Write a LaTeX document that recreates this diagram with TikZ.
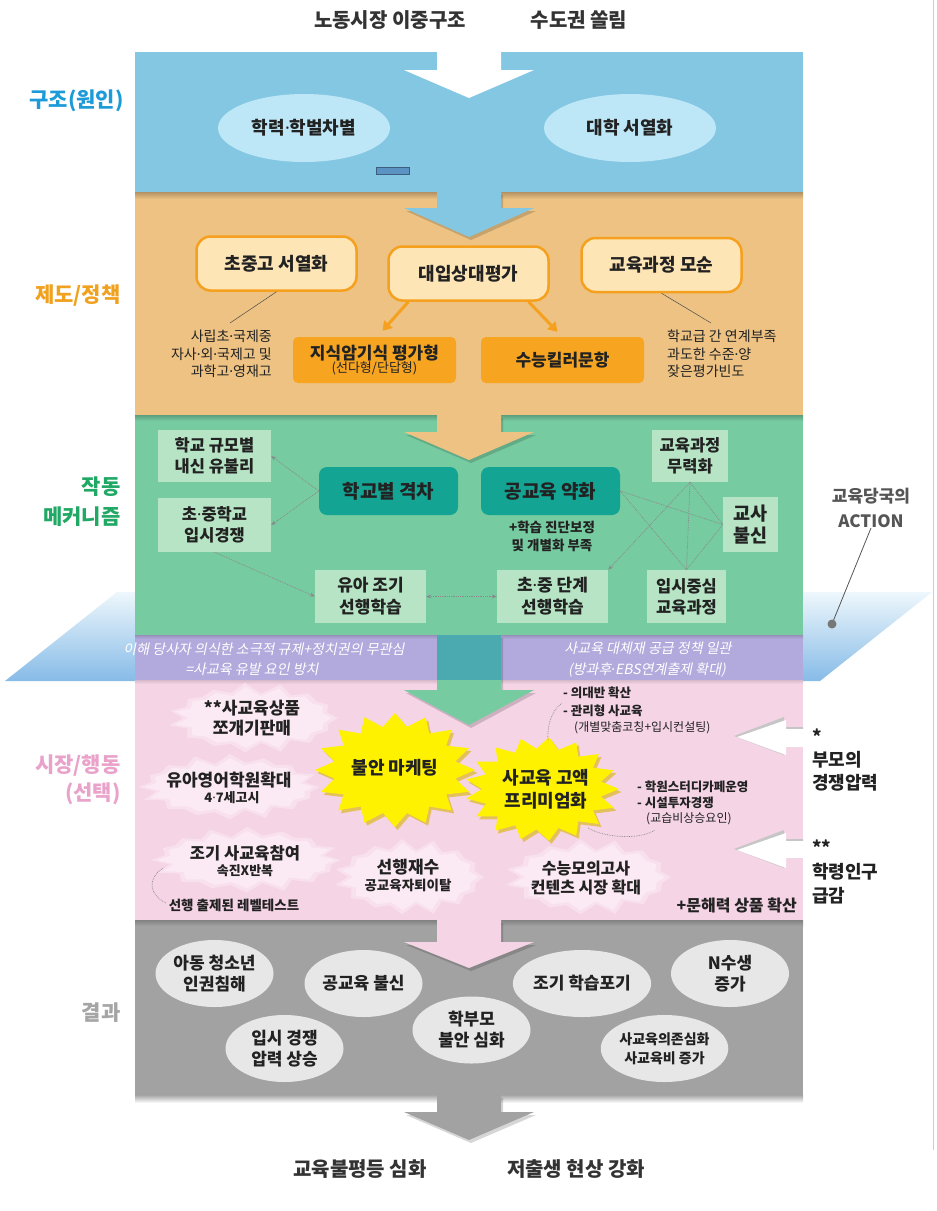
\documentclass[tikz,border=0pt]{standalone}
\usepackage{fontspec}
\setmainfont{Noto Sans CJK KR}
\newfontfamily\krit{Noto Sans CJK KR}[FakeSlant=0.2]
\newfontfamily\latinf{Noto Sans}
\newcommand\md{{\latinf ·}}
\usetikzlibrary{arrows.meta,shapes.geometric,calc}
\newcommand\fsz[2]{\fontsize{#1}{#2}\selectfont}
\definecolor{bandblue}{HTML}{83C7E2}
\definecolor{bandorange}{HTML}{EDC283}
\definecolor{bandgreen}{HTML}{77CBA1}
\definecolor{bandlav}{HTML}{B2AADC}
\definecolor{bandpink}{HTML}{F4D4E5}
\definecolor{bandgray}{HTML}{A2A2A2}
\definecolor{ellblue}{HTML}{BDE6F6}
\definecolor{boxcream}{HTML}{FDE5B6}
\definecolor{boxorange}{HTML}{F7A521}
\definecolor{orangeline}{HTML}{F5A01E}
\definecolor{mint}{HTML}{B6E4C4}
\definecolor{tealbox}{HTML}{14A494}
\definecolor{softpink}{HTML}{FBEAF3}
\definecolor{starY}{HTML}{FFF200}
\definecolor{starS}{HTML}{D9B300}
\definecolor{ellgray}{HTML}{E7E7E7}
\definecolor{lblblue}{HTML}{1D9AD8}
\definecolor{lblorange}{HTML}{F0A11E}
\definecolor{lblgreen}{HTML}{20A864}
\definecolor{lblpink}{HTML}{E9A3CB}
\definecolor{lblgray}{HTML}{A5A5A5}
\definecolor{txt}{HTML}{222222}
\definecolor{titlec}{HTML}{333333}
\definecolor{paraTop}{HTML}{EEF7FC}
\definecolor{paraBot}{HTML}{86BBE7}
\definecolor{tealshaft}{HTML}{4AAAB0}
\definecolor{dotc}{HTML}{8A8A8A}
\definecolor{markfill}{HTML}{5B93C2}
\definecolor{markline}{HTML}{3D5F7D}
\definecolor{actc}{HTML}{555555}

\newcommand\flowarrow[4]{%
  \fill[black, opacity=0.16] (439,#1+3) -- (503,#1+3) -- (503,#2+3) -- (536,#2+3) -- (471,#3+3) -- (406,#2+3) -- (439,#2+3) -- cycle;
  \fill[#4] (437,#1) -- (501,#1) -- (501,#2) -- (534,#2) -- (469,#3) -- (404,#2) -- (437,#2) -- cycle;}
\newcommand\burst[7]{%
  \pgfmathtruncatemacro\bN{2*#5-1}%
  \fill[#7] ({#1+#3},{#2}) \foreach \i in {1,...,\bN} { -- ({#1+#3*(1-#6*mod(\i,2))*cos(\i*180/#5)},{#2+#4*(1-#6*mod(\i,2))*sin(\i*180/#5)}) } -- cycle;}
\newcommand\softburst[6]{%
  \pgfmathtruncatemacro\bN{2*#5-1}%
  \fill[#6] ({#1+#3},{#2}) \foreach \i in {1,...,\bN} { -- ({#1+#3*(1-0.12*mod(\i,2)+0.04*sin(\i*137))*cos(\i*180/#5)},{#2+#4*(1-0.22*mod(\i,2)+0.05*sin(\i*137))*sin(\i*180/#5)}) } -- cycle;}

\tikzset{
  every node/.style={text=txt},
  lbl/.style={anchor=east, align=right},
  ttl/.style={font=\fsz{20}{24}\bfseries, text=titlec},
  bell/.style={ellipse, fill=ellblue, minimum width=172pt, minimum height=68pt, inner sep=0pt, font=\fsz{18}{22}\bfseries},
  obox/.style={rounded corners=14pt, draw=orangeline, line width=2.5pt, fill=boxcream, minimum width=160pt, minimum height=54pt, inner sep=0pt, font=\fsz{18}{22}\bfseries},
  kbox/.style={rounded corners=5pt, fill=boxorange, minimum width=163pt, minimum height=46pt, inner sep=0pt, align=center},
  note/.style={font=\fsz{14}{17.5}, inner sep=0pt},
  mbox/.style={fill=mint, inner sep=0pt, align=center, font=\fsz{16.5}{21}\bfseries},
  tbox/.style={fill=tealbox, rounded corners=8pt, minimum width=139pt, minimum height=48pt, inner sep=0pt, font=\fsz{19}{23}\bfseries},
  dotcon/.style={densely dotted, draw=dotc, line width=0.8pt},
  dtip/.style={-{Stealth[length=5pt,width=4pt]}},
  ittext/.style={text=white, font=\krit\fsz{14}{17}, inner sep=0pt},
  pktext/.style={inner sep=0pt, align=center},
  gell/.style={ellipse, fill=ellgray, minimum width=118pt, minimum height=67pt, inner sep=0pt, font=\fsz{17}{21}\bfseries, align=center},
  oarrow/.style={draw=orangeline, line width=3pt, -{Triangle[length=9pt,width=11pt]}},
  arcdot/.style={densely dotted, draw=dotc, line width=0.7pt},
}

\begin{document}
\begin{tikzpicture}[x=1pt,y=-1pt]
\useasboundingbox (0,0) rectangle (937,1211);
\fill[white] (0,0) rectangle (937,1211);
\draw[gray!40, line width=0.8pt] (933,0) -- (933,1150);

% action plane
\shade[top color=paraTop, bottom color=paraBot] (117,592) -- (932,592) -- (820,681) -- (5,681) -- cycle;

% bands
\fill[bandblue] (135,52) rectangle (803,192);
\fill[bandorange] (135,192) rectangle (803,415);
\fill[bandgreen] (135,415) rectangle (803,635);
\fill[bandlav] (135,635) rectangle (803,680);
\fill[bandpink] (135,680) rectangle (803,920);
\fill[bandgray] (135,920) rectangle (803,1095);
\shade[top color=bandorange!75!black, bottom color=bandorange] (135,192) rectangle (803,199);
\shade[top color=bandgreen!78!black, bottom color=bandgreen] (135,415) rectangle (803,421);
\shade[top color=bandlav!85!black, bottom color=bandlav] (135,635) rectangle (803,639);
\shade[top color=bandpink!88!black, bottom color=bandpink] (135,680) rectangle (803,684);
\shade[top color=bandgray!80!black, bottom color=bandgray] (135,920) rectangle (803,926);
\shade[top color=black!35, bottom color=white] (135,1095) rectangle (803,1103);

% flow arrows
\fill[white] (437,52) -- (501,52) -- (501,70) -- (534,70) -- (469,98) -- (404,70) -- (437,70) -- cycle;
\flowarrow{192}{208}{237}{bandblue}
\flowarrow{415}{432}{460}{bandorange}
\flowarrow{635}{690}{725}{bandgreen}
\fill[tealshaft] (437,635) rectangle (501,680);
\flowarrow{920}{942}{968}{bandpink}
\flowarrow{1095}{1112}{1140}{bandgray}

% pink band notches (white arrows from the right)
\fill[gray!45] (803,727) -- (784,727) -- (784,717) -- (734,736) -- (784,755) -- (784,747) -- (803,747) -- cycle;
\fill[white] (806,729) -- (786,729) -- (786,720) -- (737,737) -- (786,755) -- (786,747) -- (806,747) -- cycle;
\fill[gray!45] (803,839) -- (784,839) -- (784,830) -- (734,849) -- (784,868) -- (784,858) -- (803,858) -- cycle;
\fill[white] (806,841) -- (786,841) -- (786,833) -- (737,850) -- (786,868) -- (786,858) -- (806,858) -- cycle;

% titles
\node[ttl] (t1) at (390,20) {노동시장 이중구조};
\node[ttl] (t2) at (579,20) {수도권 쏠림};
\node[ttl] (t3) at (360,1169) {교육불평등 심화};
\node[ttl] (t4) at (576,1169) {저출생 현상 강화};

% side labels
\node[lbl, text=lblblue, font=\fsz{21}{25}\bfseries] (L1) at (127,101) {구조(원인)};
\node[lbl, text=lblorange, font=\fsz{21}{25}\bfseries] (L2) at (124,296) {제도/정책};
\node[lbl, text=lblgreen, font=\fsz{21}{30}\bfseries] (L3) at (124,502) {작동\\메커니즘};
\node[lbl, text=lblpink, font=\fsz{21}{28}\bfseries] (L4) at (124,780) {시장/행동\\(선택)};
\node[lbl, text=lblgray, font=\fsz{21}{25}\bfseries] (L5) at (124,1013) {결과};

% blue band
\node[bell] (e1) at (304,128) {학력\md 학벌차별};
\node[bell] (e2) at (630,128) {대학 서열화};
\node[draw=markline, fill=markfill, line width=1.3pt, minimum width=33pt, minimum height=7pt, inner sep=0pt] (mark) at (393,171) {};

% orange band
\node[obox] (b1) at (276.5,263.5) {초중고 서열화};
\node[obox] (b2) at (468.5,273.5) {대입상대평가};
\node[obox] (b3) at (661.5,265) {교육과정 모순};
\node[note, lbl] (n1) at (272,354) {사립초\md 국제중\\자사\md 외\md 국제고 및\\과학고\md 영재고};
\node[note, anchor=west, align=left] (n2) at (667,354) {학교급 간 연계부족\\과도한 수준\md 양\\잦은평가빈도};
\coordinate (n1tip) at (230,323);
\coordinate (n2tip) at (711,323);
\draw[gray!60!black, line width=0.5pt] (b1.south) -- (n1tip);
\draw[gray!60!black, line width=0.5pt] (b3.south) -- (n2tip);
\node[kbox] (k1) at (374.5,360) {{\fsz{17}{20}\bfseries 지식암기식 평가형}\\{\fsz{13}{16}(선다형/단답형)}};
\node[kbox, font=\fsz{17}{20}\bfseries] (k2) at (562.5,360) {수능킬러문항};
\draw[oarrow] ($(b2.south west)!0.13!(b2.south east)$) -- ($(k1.north)+(8,-6)$);
\draw[oarrow] ($(b2.south west)!0.87!(b2.south east)$) -- ($(k2.north)+(-5,-5)$);

% green band
\node[mbox, minimum width=113pt, minimum height=52pt] (size) at (214.5,456) {학교 규모별\\내신 유불리};
\node[mbox, minimum width=113pt, minimum height=54pt] (comp) at (214.5,525) {초\md 중학교\\입시경쟁};
\node[mbox, minimum width=76pt, minimum height=52pt] (mury) at (690,456) {교육과정\\무력화};
\node[mbox, minimum width=55pt, minimum height=55pt, font=\fsz{18.5}{22}\bfseries] (gyosa) at (750.5,524.5) {교사\\불신};
\node[mbox, minimum width=79pt, minimum height=53pt] (ipsi) at (686.5,596.5) {입시중심\\교육과정};
\node[mbox, minimum width=111pt, minimum height=53pt, font=\fsz{17}{22}\bfseries] (yua) at (370.5,596.5) {유아 조기\\선행학습};
\node[mbox, minimum width=111pt, minimum height=53pt, font=\fsz{17}{22}\bfseries] (chojung) at (552.5,596.5) {초\md 중 단계\\선행학습};
\node[tbox] (gap) at (388.5,491) {학교별 격차};
\node[tbox] (gongwk) at (550.5,491) {공교육 약화};
\node[inner sep=0pt, align=center, font=\fsz{13.5}{18}\bfseries] (gnote) at (552,536) {+학습 진단보정\\및 개별화 부족};
\draw[dotcon, dtip] (gap.west) -- (size.east);
\draw[dotcon, dtip] (gap.west) -- (comp.east);
\draw[dotcon, dtip] (comp.south) -- (yua.west);
\draw[dotcon, {Stealth[length=5pt,width=4pt]}-{Stealth[length=5pt,width=4pt]}] (yua.east) -- (chojung.west);
\draw[dotcon] (gongwk.east) -- (gyosa.west);
\draw[dotcon] (gongwk.east) -- (ipsi.north);
\draw[dotcon] (mury.south) -- (gyosa.west);
\draw[dotcon] (mury.south) -- (ipsi.north);
\draw[dotcon] (gyosa.west) -- (ipsi.north);
\draw[dotcon, dtip] (mury.south) -- (chojung.north east);

% action strip texts
\node[ittext] (a1) at (264,649) {이해 당사자 의식한 소극적 규제+정치권의 무관심};
\node[ittext] (a2) at (252,669.5) {=사교육 유발 요인 방치};
\node[ittext] (a3) at (648,648.5) {사교육 대체재 공급 정책 일관};
\node[ittext] (a4) at (647,670.5) {(방과후\md EBS연계출제 확대)};
\node[align=center, text=actc, font=\fsz{17}{25}\bfseries, inner sep=0pt] (act) at (871,508) {교육당국의\\ACTION};
\coordinate (actdot) at (832,624);
\draw[actc, line width=0.8pt] (act.south) -- (actdot);
\fill[actc!80] (actdot) circle (4.5pt);

% pink band soft bursts
\softburst{254}{718}{84}{34}{15}{softpink!55!bandpink}
\softburst{254}{718}{78}{30}{15}{softpink}
\softburst{230}{787}{90}{32}{16}{softpink!55!bandpink}
\softburst{230}{787}{84}{28}{16}{softpink}
\softburst{247}{860}{94}{32}{16}{softpink!55!bandpink}
\softburst{247}{860}{88}{28}{16}{softpink}
\softburst{410}{877}{74}{37}{15}{softpink!55!bandpink}
\softburst{410}{877}{68}{33}{15}{softpink}
\softburst{589}{877}{82}{37}{15}{softpink!55!bandpink}
\softburst{589}{877}{76}{33}{15}{softpink}

\node[pktext, font=\fsz{17}{20}\bfseries] (p1) at (252,718) {**사교육상품\\쪼개기판매};
\node[pktext, font=\fsz{17}{20}\bfseries] (p2) at (229,780) {유아영어학원확대};
\node[pktext, font=\fsz{13}{16}\bfseries] (p2s) at (232,798) {4\md 7세고시};
\node[pktext, font=\fsz{16.5}{20}\bfseries] (p3) at (245,853) {조기 사교육참여};
\node[pktext, font=\fsz{13}{16}\bfseries] (p3s) at (245,871) {속진X반복};
\node[pktext, font=\fsz{13.5}{16}\bfseries] (p3n) at (234,905) {선행 출제된 레벨테스트};
\coordinate (arcA) at (163,868);
\coordinate (arcB) at (166,903);
\draw[arcdot] (arcA) .. controls (146,880) and (150,895) .. (arcB);
\node[pktext, font=\fsz{17}{20}\bfseries] (p4) at (408,867) {선행재수};
\node[pktext, font=\fsz{13.5}{16}\bfseries] (p4s) at (408,885) {공교육자퇴이탈};
\node[pktext, font=\fsz{16}{18.5}\bfseries] (p5) at (586,878) {수능모의고사\\컨텐츠 시장 확대};
\node[pktext, anchor=east, font=\fsz{16}{19}\bfseries] (p6) at (797,905) {+문해력 상품 확산};

% yellow bursts
\burst{397.5}{773}{80}{57}{16}{0.23}{starS, opacity=0.6}
\burst{395}{770}{80}{57}{16}{0.23}{starY}
\burst{544.5}{792}{77}{52}{17}{0.22}{starS, opacity=0.6}
\burst{542}{789}{77}{52}{17}{0.22}{starY}
\node[pktext, font=\fsz{18}{22}\bfseries] (y1) at (395,768) {불안 마케팅};
\node[pktext, font=\fsz{18}{23}\bfseries] (y2) at (546,789) {사교육 고액\\프리미엄화};

\node[inner sep=0pt, anchor=west, font=\fsz{12.5}{15}\bfseries] (q1) at (563,693) {- 의대반 확산};
\node[inner sep=0pt, anchor=west, font=\fsz{12.5}{15}\bfseries] (q2) at (563,711) {- 관리형 사교육};
\node[inner sep=0pt, anchor=west, font=\fsz{12}{15}] (q3) at (574,728) {(개별맞춤코칭+입시컨설팅)};
\node[inner sep=0pt, anchor=west, font=\fsz{12.5}{15}\bfseries] (r1) at (637,787) {- 학원스터디카페운영};
\node[inner sep=0pt, anchor=west, font=\fsz{12.5}{15}\bfseries] (r2) at (637,803) {- 시설투자경쟁};
\node[inner sep=0pt, anchor=west, font=\fsz{12}{15}] (r3) at (646,819) {(교습비상승요인)};
\coordinate (qa) at (562,703);
\coordinate (qb) at (548,741);
\draw[arcdot] (qa) .. controls (550,712) and (547,728) .. (qb);
\coordinate (ra) at (588,828);
\coordinate (rb) at (655,830);
\draw[arcdot] (ra) .. controls (605,838) and (640,840) .. (rb);

% right texts
\node[anchor=west, align=left, inner sep=0pt, font=\fsz{18}{23}\bfseries] (par) at (812,760) {*\\부모의\\경쟁압력};
\node[anchor=west, align=left, inner sep=0pt, font=\fsz{18}{24}\bfseries] (pop) at (812,872) {**\\학령인구\\급감};

% gray band
\node[gell] (g1) at (214.5,973.5) {아동 청소년\\인권침해};
\node[gell] (g2) at (363.5,983.5) {공교육 불신};
\node[gell] (g3) at (284.5,1048.5) {입시 경쟁\\압력 상승};
\node[gell] (g4) at (471.5,1030) {학부모\\불안 심화};
\node[gell] (g5) at (582,983.5) {조기 학습포기};
\node[gell] (g6) at (730,973.5) {N수생\\증가};
\node[gell, font=\fsz{14}{19}\bfseries] (g7) at (664.5,1048.5) {사교육의존심화\\사교육비 증가};
\end{tikzpicture}
\end{document}
